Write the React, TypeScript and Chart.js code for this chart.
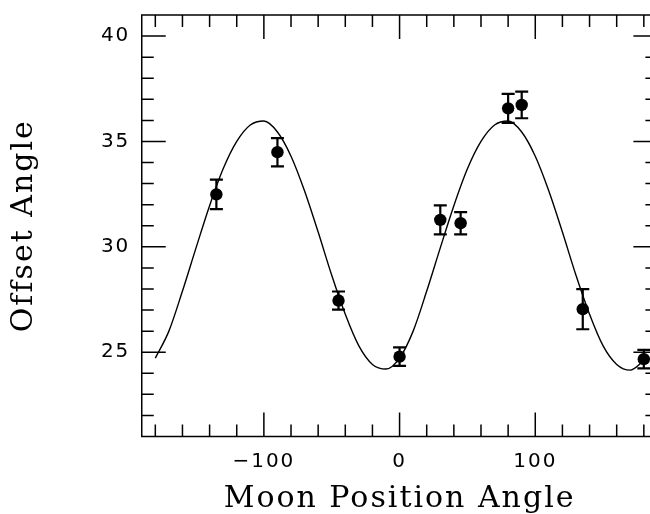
import React, { useEffect, useRef } from 'react';
import { Chart, registerables } from 'chart.js';

Chart.register(...registerables);

// Model curve (moon position angle, offset angle)
const curveAngles = [
  -180, -170, -160, -150, -140, -130, -120, -110, -100, -90, -80, -70, -60, -50, -40, -30, -20, -10,
  0, 10, 20, 30, 40, 50, 60, 70, 80, 90, 100, 110, 120, 130, 140, 150, 160, 170, 180,
];
const curveOffsets = [
  24.72, 26.0, 27.9, 29.95, 31.95, 33.7, 35.0, 35.78, 35.97, 35.45, 34.3, 32.65, 30.7, 28.65, 26.8, 25.3, 24.42, 24.2,
  24.72, 26.0, 27.9, 29.95, 31.95, 33.7, 35.0, 35.78, 35.97, 35.45, 34.3, 32.65, 30.7, 28.65, 26.8, 25.3, 24.42, 24.15, 24.6,
];

// Measured points with error bars
const pointAngles = [-135, -90, -45, 0, 30, 45, 80, 90, 135, 180];
const pointOffsets = [32.49, 34.49, 27.45, 24.79, 31.28, 31.12, 36.57, 36.73, 27.04, 24.67];
const pointErrors = [0.7, 0.67, 0.43, 0.44, 0.69, 0.53, 0.69, 0.63, 0.95, 0.44];

// Axes
const xMin = -190;
const xMax = 190;
const yMin = 21;
const yMax = 41;
const xTickValues = [-100, 0, 100];
const yTickValues = [25, 30, 35, 40];
const xMinorStep = 20;
const yMinorStep = 1;
const xTitle = 'Moon Position Angle';
const yTitle = 'Offset Angle';

const fmt = (v: number) => (v < 0 ? '\u2212' + Math.abs(v) : String(v));

const spacingPlugin = {
  id: 'letterSpacing',
  beforeDraw(chart: any) {
    chart.ctx.letterSpacing = '2px';
  },
  afterDraw(chart: any) {
    chart.ctx.letterSpacing = '0px';
  },
};

const errorBarPlugin = {
  id: 'errorBars',
  afterDatasetsDraw(chart: any) {
    const { ctx, scales } = chart;
    const x = scales.x;
    const y = scales.y;
    ctx.save();
    ctx.strokeStyle = '#000';
    ctx.lineWidth = 2.2;
    ctx.beginPath();
    for (let i = 0; i < pointAngles.length; i++) {
      const px = x.getPixelForValue(pointAngles[i]);
      const top = y.getPixelForValue(pointOffsets[i] + pointErrors[i]);
      const bot = y.getPixelForValue(pointOffsets[i] - pointErrors[i]);
      const cap = 6.5;
      ctx.moveTo(px, top);
      ctx.lineTo(px, bot);
      ctx.moveTo(px - cap, top);
      ctx.lineTo(px + cap, top);
      ctx.moveTo(px - cap, bot);
      ctx.lineTo(px + cap, bot);
    }
    ctx.stroke();
    ctx.restore();
  },
};

const framePlugin = {
  id: 'frameTicks',
  afterDraw(chart: any) {
    const { ctx, chartArea: a, scales } = chart;
    const x = scales.x;
    const y = scales.y;
    ctx.save();
    ctx.strokeStyle = '#000';
    ctx.lineWidth = 1.5;
    ctx.strokeRect(a.left, a.top, a.right - a.left, a.bottom - a.top);
    ctx.beginPath();
    for (let v = Math.ceil(xMin / xMinorStep) * xMinorStep; v <= xMax; v += xMinorStep) {
      const px = x.getPixelForValue(v);
      const len = xTickValues.includes(v) ? 24 : 12;
      ctx.moveTo(px, a.bottom);
      ctx.lineTo(px, a.bottom - len);
      ctx.moveTo(px, a.top);
      ctx.lineTo(px, a.top + len);
    }
    for (let v = yMin + yMinorStep; v < yMax; v += yMinorStep) {
      const py = y.getPixelForValue(v);
      const len = yTickValues.includes(v) ? 24 : 12;
      ctx.moveTo(a.left, py);
      ctx.lineTo(a.left + len, py);
      ctx.moveTo(a.right, py);
      ctx.lineTo(a.right - len, py);
    }
    ctx.stroke();
    ctx.restore();
  },
};

export default function App() {
  const ref = useRef<HTMLCanvasElement | null>(null);

  useEffect(() => {
    if (!ref.current) return;
    const chart = new Chart(ref.current, {
      type: 'scatter',
      data: {
        datasets: [
          {
            type: 'line',
            data: curveAngles.map((a, i) => ({ x: a, y: curveOffsets[i] })),
            borderColor: '#000',
            borderWidth: 1.4,
            pointRadius: 0,
            fill: false,
            cubicInterpolationMode: 'monotone',
          } as any,
          {
            type: 'scatter',
            data: pointAngles.map((a, i) => ({ x: a, y: pointOffsets[i] })),
            backgroundColor: '#000',
            borderColor: '#000',
            pointRadius: 6.2,
            pointBorderWidth: 0,
          } as any,
        ],
      },
      options: {
        responsive: false,
        animation: false,
        devicePixelRatio: 1,
        layout: { autoPadding: false, padding: { top: 15, right: 12.6, bottom: 0, left: 0 } },
        plugins: { legend: { display: false }, tooltip: { enabled: false } },
        scales: {
          x: {
            type: 'linear',
            min: xMin,
            max: xMax,
            afterBuildTicks: (s: any) => {
              s.ticks = xTickValues.map((v) => ({ value: v }));
            },
            ticks: {
              callback: (v: any) => fmt(Number(v)),
              font: { family: 'DejaVu Sans', size: 20, lineHeight: 1.2 },
              color: '#000',
              padding: 13.2,
              maxRotation: 0,
              autoSkip: false,
            },
            grid: { display: false, drawTicks: false },
            border: { display: false },
            title: {
              display: true,
              text: xTitle,
              color: '#000',
              font: { family: 'DejaVu Serif', size: 30, lineHeight: 1 },
              padding: { top: -2.9, bottom: 0 },
            },
          },
          y: {
            type: 'linear',
            min: yMin,
            max: yMax,
            afterBuildTicks: (s: any) => {
              s.ticks = yTickValues.map((v) => ({ value: v }));
            },
            ticks: {
              callback: (v: any) => fmt(Number(v)),
              font: { family: 'DejaVu Sans', size: 20, lineHeight: 0.1 },
              color: '#000',
              padding: 11.4,
              autoSkip: false,
            },
            grid: { display: false, drawTicks: false },
            border: { display: false },
            title: {
              display: true,
              text: yTitle,
              color: '#000',
              font: { family: 'DejaVu Serif', size: 30, lineHeight: 1 },
              padding: { top: 9, bottom: 54.5 },
            },
          },
        },
      },
      plugins: [spacingPlugin, errorBarPlugin, framePlugin],
    } as any);
    return () => chart.destroy();
  }, []);

  return (
    <div
      style={{
        position: 'fixed',
        left: 0,
        top: 0,
        width: 650,
        height: 514,
        overflow: 'hidden',
        background: '#fff',
      }}
    >
      <canvas ref={ref} width={670} height={514} style={{ display: 'block' }} />
    </div>
  );
}
